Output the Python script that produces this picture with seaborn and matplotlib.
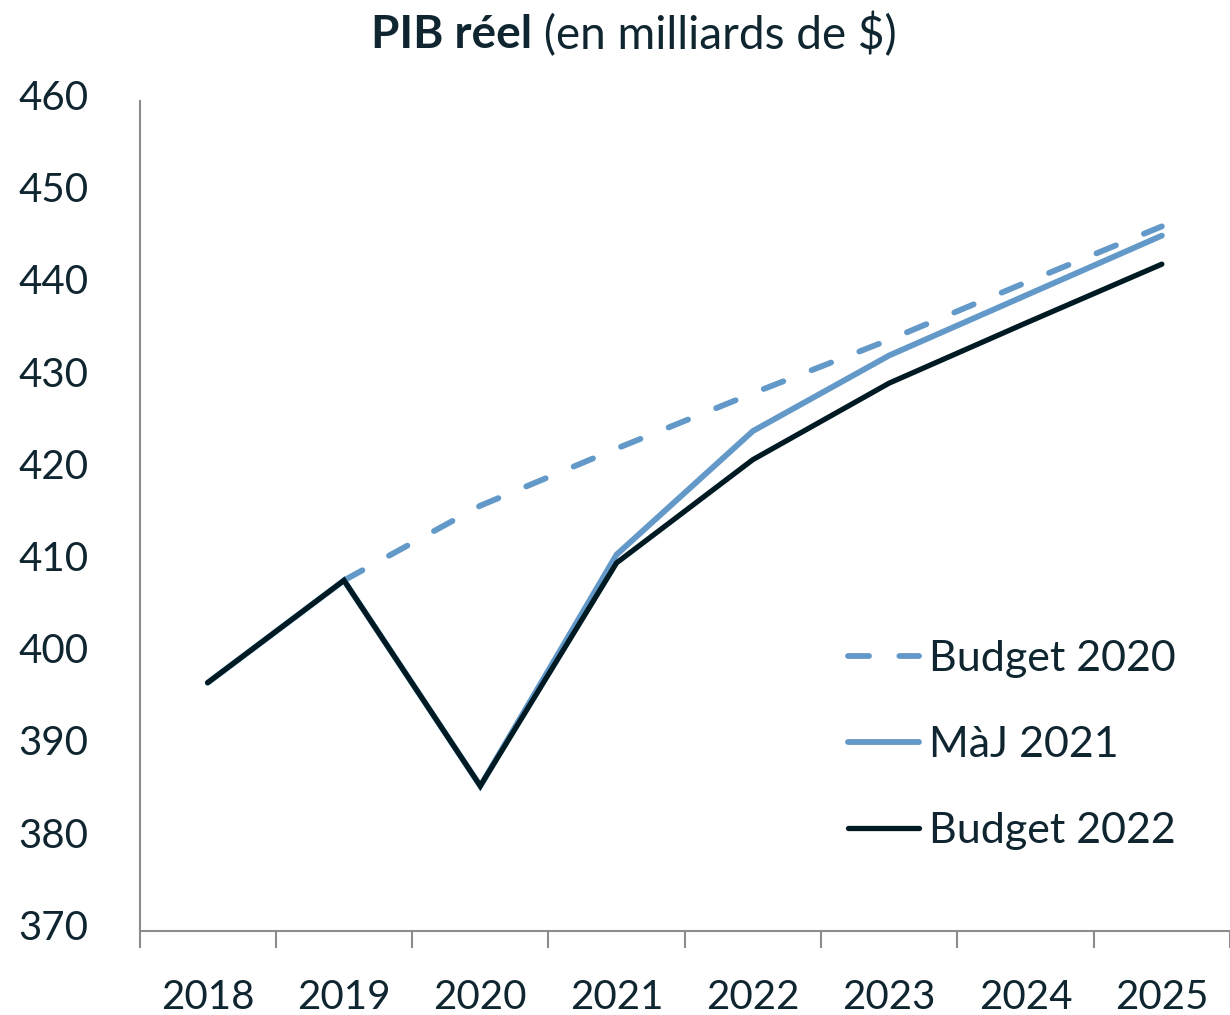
import numpy as np
import pandas as pd
import matplotlib
matplotlib.use('Agg')
import matplotlib.pyplot as plt
import matplotlib.transforms as mtransforms
import seaborn as sns

# values (billions of $)
years = ['2018', '2019', '2020', '2021', '2022', '2023', '2024', '2025']
budget_2020 = [np.nan, 408.0, 416.1, 422.3, 428.3, 434.1, 440.3, 446.4]
maj_2021 = [396.9, 408.0, 385.7, 410.8, 424.2, 432.4, 438.9, 445.4]
budget_2022 = [396.9, 408.0, 385.7, 409.9, 421.1, 429.4, 435.9, 442.3]
series_names = ['Budget 2020', 'MàJ 2021', 'Budget 2022']
y_ticks = [370, 380, 390, 400, 410, 420, 430, 440, 450, 460]

blue = '#6399c8'
dark = '#001a23'
text_col = '#0f2530'
grey = '#8c8c8c'

sns.set_theme(style='white')
plt.rcParams['font.family'] = ['Lato', 'DejaVu Sans']
plt.rcParams['text.color'] = text_col

W, H = 1230, 1015
fig = plt.figure(figsize=(W / 100, H / 100), dpi=100)
left, right, top, bottom = 139.5, 1230, 101, 930.7
ax = fig.add_axes([left / W, 1 - bottom / H, (right - left) / W, (bottom - top) / H])

x = np.arange(len(years))
df = pd.DataFrame({'x': x, 'Budget 2020': budget_2020, 'MàJ 2021': maj_2021,
                   'Budget 2022': budget_2022})

sns.lineplot(data=df, x='x', y='Budget 2020', ax=ax, color=blue, lw=4.2, label=series_names[0])
sns.lineplot(data=df, x='x', y='MàJ 2021', ax=ax, color=blue, lw=4.2, label=series_names[1])
sns.lineplot(data=df, x='x', y='Budget 2022', ax=ax, color=dark, lw=3.8, label=series_names[2])

lines = ax.get_lines()
lines[0].set_linestyle((0, (3.6, 5.2)))
for ln in lines:
    ln.set_dash_capstyle('round')
    ln.set_solid_capstyle('round')
    ln.set_solid_joinstyle('miter')

ax.set_ylim(370, 460)
ax.set_xlim(-0.5, -0.5 + (right - left) / 137.5)
ax.set_yticks(y_ticks)
ax.set_yticklabels([str(v) for v in y_ticks], fontsize=29, color=text_col)
ax.tick_params(axis='y', length=0, pad=37)
shift = mtransforms.ScaledTranslation(0, 6 / 100, fig.dpi_scale_trans)
for lab in ax.get_yticklabels():
    lab.set_transform(lab.get_transform() + shift)

ax.set_xticks(np.arange(len(years) + 1) - 0.5)
ax.set_xticklabels([])
ax.set_xticks(x, minor=True)
ax.set_xticklabels(years, minor=True, fontsize=29, color=text_col)
ax.tick_params(axis='x', which='major', bottom=True, length=12, width=1.5, color=grey,
               direction='out')
ax.tick_params(axis='x', which='minor', bottom=True, length=0, pad=35)

ax.set_xlabel('')
ax.set_ylabel('')
for s in ['top', 'right']:
    ax.spines[s].set_visible(False)
for s in ['left', 'bottom']:
    ax.spines[s].set_color(grey)
    ax.spines[s].set_linewidth(1.5)

handles, labels = ax.get_legend_handles_labels()
if ax.get_legend():
    ax.get_legend().remove()
leg = fig.legend(handles, labels, loc='center left', bbox_to_anchor=(848 / W, 1 - 745 / H),
                 frameon=False, fontsize=31, handlelength=1.65, handletextpad=0.22,
                 labelspacing=1.12, borderpad=0, borderaxespad=0)
for t in leg.get_texts():
    t.set_color(text_col)

# title in two weights, centred as a whole
ty = 1 - 35 / H
t1 = fig.text(0, ty, 'PIB réel', fontsize=33, fontweight='bold', ha='left', va='center')
t2 = fig.text(0, ty, ' (en milliards de $)', fontsize=33, ha='left', va='center')
fig.canvas.draw()
w1 = t1.get_window_extent().width
w2 = t2.get_window_extent().width
x0 = 634 - (w1 + w2) / 2
t1.set_x(x0 / W)
t2.set_x((x0 + w1) / W)

fig.savefig('out.png', dpi=100)
